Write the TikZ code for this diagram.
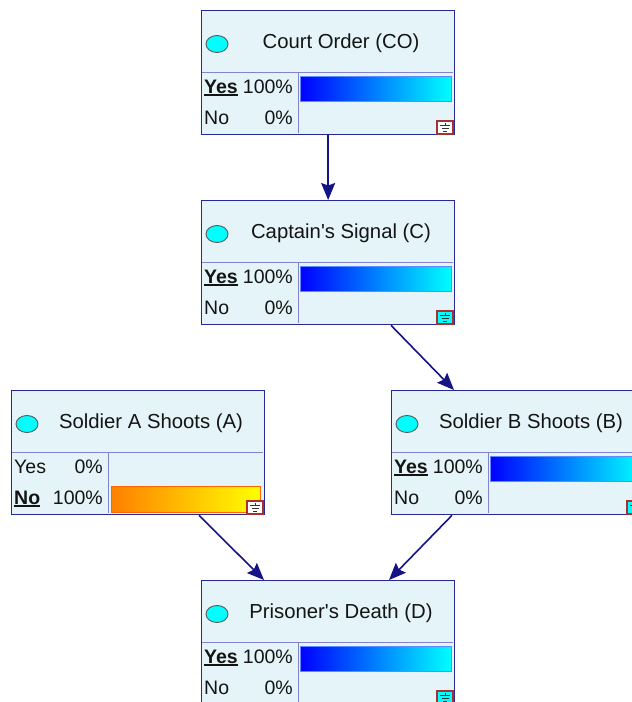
\documentclass[tikz,border=0pt]{standalone}
\usepackage{fontspec}
\setmainfont{Liberation Sans}[Ligatures=TeXOff]
\usetikzlibrary{arrows.meta,calc,shapes.geometric}
\definecolor{bnfill}{RGB}{228,244,248}
\definecolor{bnborder}{RGB}{40,40,150}
\definecolor{bndivc}{RGB}{130,130,205}
\definecolor{bnarrow}{RGB}{20,20,135}
\definecolor{bncyan}{RGB}{0,255,255}
\definecolor{bnblue}{RGB}{0,0,255}
\definecolor{bnbarline}{RGB}{90,140,255}
\definecolor{bnorange}{RGB}{255,128,0}
\definecolor{bnyellow}{RGB}{255,255,0}
\definecolor{bnicon}{RGB}{165,50,50}
\definecolor{bntext}{RGB}{20,20,20}
\newcommand\bnul[1]{\setbox0\hbox{#1}\rlap{\rule[-3pt]{\wd0}{1.8pt}}\box0}
\tikzset{
  bnbox/.style={draw=bnborder, fill=bnfill, line width=1.3pt, minimum width=253pt, minimum height=124pt, inner sep=0pt},
  bnoval/.style={ellipse, draw=gray!70!black, fill=bncyan, line width=0.9pt, minimum width=22pt, minimum height=17pt, inner sep=0pt},
  bntitle/.style={anchor=base, inner sep=0pt, text=bntext, font=\fontsize{20.3}{24}\selectfont},
  bnrow/.style={inner sep=0pt, text=bntext, font=\fontsize{19.5}{23}\selectfont},
  bndiv/.style={draw=bndivc, line width=0.9pt},
  bnbluebar/.style={draw=bnbarline, line width=0.7pt, left color=bnblue, right color=bncyan, minimum width=151pt, minimum height=25pt, inner sep=0pt, anchor=north west},
  bnorangebar/.style={draw=bnorange!80!red, line width=0.7pt, left color=bnorange, right color=bnyellow, minimum width=149pt, minimum height=26pt, inner sep=0pt, anchor=north west},
  bniconbox/.style={draw=bnicon, line width=1.3pt, minimum width=16pt, minimum height=13pt, inner sep=0pt},
  bngnd/.style={draw=black!80, line width=0.9pt},
  bnlink/.style={draw=bnarrow, line width=1.6pt, -{Stealth[length=17pt,width=14pt,inset=2.5pt]}}
}
% #1 name, #2 x, #3 y, #4 title, #5 icon fill
\newcommand\bnnet[5]{%
  \node[bnbox, anchor=north west] (#1) at (#2,#3) {};
  \draw[bndiv] (#2+0.6,#3+62) -- (#2+252.4,#3+62);
  \draw[bndiv] (#2+97,#3+62) -- (#2+97,#3+123.4);
  \node[bnoval] (#1-o) at (#2+16,#3+34) {};
  \node[bntitle] (#1-t) at (#2+140,#3+38) {#4};
  \node[bniconbox, fill=#5] (#1-i) at (#2+244,#3+117.5) {};
}
% ground symbol in icon: #1 x, #2 y of node
\newcommand\bngsym[2]{%
  \draw[bngnd] (#1+244,#2+112.5) -- (#1+244,#2+115);
  \draw[bngnd] (#1+239,#2+115.5) -- (#1+249,#2+115.5);
  \draw[bngnd] (#1+240.5,#2+118.5) -- (#1+247.5,#2+118.5);
  \draw[bngnd] (#1+242,#2+121.5) -- (#1+246,#2+121.5);
}
% rows: #1 name, #2 x, #3 y, #4 label1, #5 pct1, #6 label2, #7 pct2
\newcommand\bnrows[7]{%
  \node[bnrow, anchor=base west] (#1-l1) at (#2+3,#3+83) {#4};
  \node[bnrow, anchor=base east] (#1-p1) at (#2+92,#3+83) {#5};
  \node[bnrow, anchor=base west] (#1-l2) at (#2+3,#3+114) {#6};
  \node[bnrow, anchor=base east] (#1-p2) at (#2+92,#3+114) {#7};
}
\begin{document}
\begin{tikzpicture}[x=1pt,y=-1pt]
\clip (0,0) rectangle (632,702);
\fill[white] (0,0) rectangle (632,702);

% Court Order
\bnnet{co}{201}{10}{Court Order (CO)}{white}
\node[bnbluebar] (co-bar) at (201+99,10+66) {};
\bngsym{201}{10}
\bnrows{co}{201}{10}{\bnul{\textbf{Yes}}}{100\%}{No}{0\%}

% Captain's Signal
\bnnet{c}{201}{200}{Captain's Signal (C)}{bncyan}
\node[bnbluebar] (c-bar) at (201+99,200+66) {};
\bngsym{201}{200}
\bnrows{c}{201}{200}{\bnul{\textbf{Yes}}}{100\%}{No}{0\%}

% Soldier A
\bnnet{a}{11}{390}{Soldier A Shoots (A)}{white}
\node[bnorangebar] (a-bar) at (11+100,390+96) {};
\node[bniconbox, fill=white] (a-i2) at (a-i) {};
\bngsym{11}{390}
\bnrows{a}{11}{390}{Yes}{0\%}{\bnul{\textbf{No}}}{100\%}

% Soldier B
\bnnet{b}{391}{390}{Soldier B Shoots (B)}{bncyan}
\node[bnbluebar] (b-bar) at (391+99,390+66) {};
\bngsym{391}{390}
\bnrows{b}{391}{390}{\bnul{\textbf{Yes}}}{100\%}{No}{0\%}

% Prisoner's Death
\bnnet{d}{201}{580}{Prisoner's Death (D)}{bncyan}
\node[bnbluebar] (d-bar) at (201+99,580+66) {};
\bngsym{201}{580}
\bnrows{d}{201}{580}{\bnul{\textbf{Yes}}}{100\%}{No}{0\%}

% links
\draw[bnlink] (co.south) -- (c.north);
\draw[bnlink] ([xshift=190pt]c.south west) -- ([xshift=63pt]b.north west);
\draw[bnlink] ([xshift=188pt]a.south west) -- ([xshift=63pt]d.north west);
\draw[bnlink] ([xshift=61pt]b.south west) -- ([xshift=188pt]d.north west);
\end{tikzpicture}
\end{document}
